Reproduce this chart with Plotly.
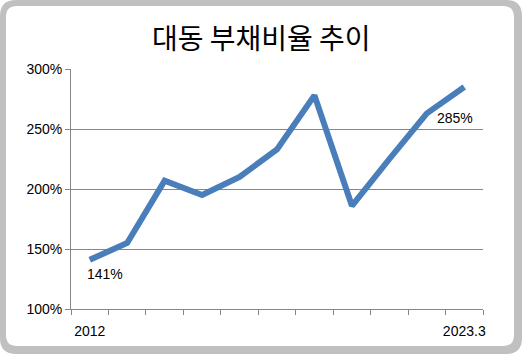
import plotly.graph_objects as go

categories = ["2012", "2013", "2014", "2015", "2016", "2017", "2018", "2019", "2020", "2021", "2023.3"]
tick_labels = ["2012", "", "", "", "", "", "", "", "", "", "2023.3"]
debt_ratio = [141, 155, 207, 195, 210, 233, 278, 186, 225, 263, 285]
title_text = "대동 부채비율 추이"
y_ticks = [100, 150, 200, 250, 300]
y_tick_text = ["100%", "150%", "200%", "250%", "300%"]

W, H = 522, 354
L, R, T, B = 71, 39, 69, 45
PW, PH = W - L - R, H - T - B
TXT = dict(family="Liberation Sans", size=14, color="black", weight="normal")


def px(x):
    return (x - L) / PW


def py(y):
    return (H - B - y) / PH


def rounded(x0, y0, x1, y1, r):
    pts = [
        f"M {px(x0 + r)},{py(y0)}",
        f"L {px(x1 - r)},{py(y0)}",
        f"Q {px(x1)},{py(y0)} {px(x1)},{py(y0 + r)}",
        f"L {px(x1)},{py(y1 - r)}",
        f"Q {px(x1)},{py(y1)} {px(x1 - r)},{py(y1)}",
        f"L {px(x0 + r)},{py(y1)}",
        f"Q {px(x0)},{py(y1)} {px(x0)},{py(y1 - r)}",
        f"L {px(x0)},{py(y0 + r)}",
        f"Q {px(x0)},{py(y0)} {px(x0 + r)},{py(y0)}",
        "Z",
    ]
    return " ".join(pts)


fig = go.Figure()
fig.add_trace(go.Scatter(
    x=categories, y=debt_ratio, mode="lines",
    line=dict(color="#4a7ebb", width=6),
    hoverinfo="skip", showlegend=False,
))

fig.add_shape(type="path", xref="paper", yref="paper", path=rounded(0, 0, 522, 354, 16),
              fillcolor="#c0c0c0", line=dict(width=0), layer="below")
fig.add_shape(type="path", xref="paper", yref="paper", path=rounded(6, 6, 514, 346, 11),
              fillcolor="white", line=dict(width=0), layer="below")

fig.add_annotation(x=px(261), y=py(37), xref="paper", yref="paper", text=title_text,
                   showarrow=False, xanchor="center", yanchor="middle",
                   font=dict(family="Noto Sans CJK KR", size=28, color="black", weight="normal"))

first, last = 0, len(categories) - 1
fig.add_annotation(x=first, y=debt_ratio[first], xref="x", yref="y", text=f"{debt_ratio[first]}%",
                   showarrow=False, xshift=15, yshift=-14, font=TXT)
fig.add_annotation(x=last, y=debt_ratio[last], xref="x", yref="y", text=f"{debt_ratio[last]}%",
                   showarrow=False, xshift=-9, yshift=-31, font=TXT)

fig.update_layout(
    width=W, height=H,
    margin=dict(l=L, r=R, t=T, b=B, pad=0),
    paper_bgcolor="white", plot_bgcolor="rgba(0,0,0,0)",
    font=TXT,
)
fig.update_xaxes(
    type="category", categoryorder="array", categoryarray=categories,
    tickmode="array", tickvals=categories, ticktext=tick_labels,
    tickson="boundaries", ticks="outside", ticklen=5, tickcolor="#868686",
    showline=True, linecolor="#868686", linewidth=1, tickangle=0, automargin=False,
    ticklabelstandoff=9,
    showgrid=False, range=[-0.5, len(categories) - 0.5],
    tickfont=TXT,
)
fig.update_yaxes(
    range=[100, 300], tickvals=y_ticks, ticktext=y_tick_text, automargin=False,
    ticks="outside", ticklen=5, tickcolor="#868686",
    showline=True, linecolor="#868686", linewidth=1,
    showgrid=True, gridcolor="#868686", gridwidth=1, zeroline=False,
    tickfont=TXT,
)

fig.write_html("out.html")
